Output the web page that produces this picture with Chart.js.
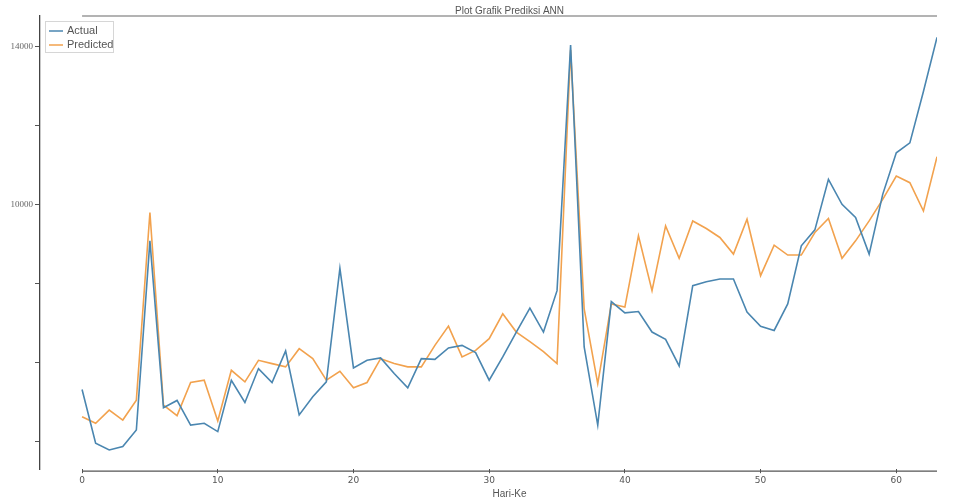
<!DOCTYPE html>
<html>
<head>
<meta charset="utf-8">
<script src="https://cdn.jsdelivr.net/npm/chart.js@4.4.1/dist/chart.umd.min.js"></script>
<style>
html,body{margin:0;padding:0;background:#fff;}
#wrap{width:969px;height:502px;position:relative;}
</style>
</head>
<body>
<div id="wrap"><canvas id="c" width="969" height="502"></canvas></div>
<script>
const chartTitle = "Plot Grafik Prediksi ANN";
const xTitle = "Hari-Ke";
const seriesNames = ["Actual", "Predicted"];
const seriesColors = ['#4a86b0', '#f2a24e'];
const days = Array.from({length: 64}, (_, i) => i);
const actual = [5309,3947,3778,3864,4283,9074,4848,5032,4409,4452,
  4242,5544,4981,5839,5486,6285,4666,5125,5503,8378,
  5856,6048,6109,5713,5352,6091,6073,6361,6426,6242,
  5544,6134,6764,7370,6764,7813,14035,6386,4409,7536,
  7251,7284,6764,6578,5907,7940,8040,8108,8108,7269,
  6911,6805,7478,8948,9352,10631,10000,9665,8739,10252,
  11304,11556,12857,14229];
const predicted = [4620,4452,4787,4535,5039,9791,4913,4646,5486,5544,
  4510,5796,5503,6048,5965,5882,6343,6091,5544,5771,
  5352,5486,6091,5965,5882,5882,6426,6916,6134,6300,
  6595,7226,6764,6520,6267,5965,13909,7352,5460,7478,
  7395,9201,7813,9453,8631,9579,9387,9160,8739,9622,
  8192,8966,8714,8714,9286,9639,8631,9074,9579,10126,
  10714,10547,9831,11203];
const yTicks = [4000,6000,8000,10000,12000,14000];
const yLabeled = [10000,14000];
const xTicks = [0,10,20,30,40,50,60];

const decor = {
  id: 'decor',
  beforeDatasetsDraw(chart) {
    const {ctx, chartArea, scales} = chart;
    const x0 = scales.x.getPixelForValue(days[0]);
    const x1 = scales.x.getPixelForValue(days[days.length-1]);
    ctx.save();
    // top line
    ctx.strokeStyle = '#9a9a9a';
    ctx.lineWidth = 1.5;
    ctx.beginPath();
    ctx.moveTo(x0, chartArea.top);
    ctx.lineTo(x1, chartArea.top);
    ctx.stroke();
    // x axis spine
    ctx.strokeStyle = '#555';
    ctx.lineWidth = 1.3;
    ctx.beginPath();
    ctx.moveTo(x0, chartArea.bottom + 2);
    ctx.lineTo(x1, chartArea.bottom + 2);
    ctx.stroke();
    // title
    ctx.fillStyle = '#555';
    ctx.font = '10px "Liberation Sans", Arial, sans-serif';
    ctx.textAlign = 'center';
    ctx.textBaseline = 'middle';
    ctx.fillText(chartTitle, (x0 + x1) / 2, 11);
    // x axis title
    ctx.fillText(xTitle, (x0 + x1) / 2, 494);
    // legend
    const lx = chartArea.left + 5, ly = chartArea.top + 5;
    ctx.fillStyle = 'rgba(255,255,255,0.9)';
    ctx.strokeStyle = '#d6d6d6';
    ctx.lineWidth = 1;
    ctx.fillRect(lx, ly, 68, 31);
    ctx.strokeRect(lx + 0.5, ly + 0.5, 68, 31);
    ctx.font = '11px "Liberation Sans", Arial, sans-serif';
    ctx.textAlign = 'left';
    seriesNames.forEach((name, i) => {
      const ry = ly + 10 + i * 14;
      ctx.strokeStyle = seriesColors[i];
      ctx.lineWidth = 1.5;
      ctx.beginPath();
      ctx.moveTo(lx + 4, ry);
      ctx.lineTo(lx + 18, ry);
      ctx.stroke();
      ctx.fillStyle = '#555';
      ctx.fillText(name, lx + 22, ry);
    });
    ctx.restore();
  }
};

new Chart(document.getElementById('c'), {
  type: 'line',
  data: {
    labels: days,
    datasets: [
      {label: seriesNames[0], data: days.map((d,i)=>({x:d,y:actual[i]})), borderColor: seriesColors[0], borderWidth: 1.6, pointRadius: 0, tension: 0, fill: false},
      {label: seriesNames[1], data: days.map((d,i)=>({x:d,y:predicted[i]})), borderColor: seriesColors[1], borderWidth: 1.6, pointRadius: 0, tension: 0, fill: false}
    ]
  },
  options: {
    responsive: false,
    animation: false,
    layout: {padding: {top: 16, right: 32, bottom: 14, left: 0}},
    plugins: {
      title: {display: false},
      tooltip: {enabled: false},
      legend: {display: false}
    },
    scales: {
      x: {
        type: 'linear',
        min: -3.1,
        max: 63,
        afterBuildTicks: s => { s.ticks = xTicks.map(v => ({value: v})); },
        border: {display: false},
        grid: {drawOnChartArea: false, drawTicks: true, tickLength: 4, color: '#555'},
        ticks: {color: '#555', padding: 2, maxRotation: 0, autoSkip: false,
          font: {size: 9, family: '"DejaVu Sans", sans-serif'}}
      },
      y: {
        min: 3290,
        max: 14770,
        afterBuildTicks: s => { s.ticks = yTicks.map(v => ({value: v})); },
        afterFit: s => { s.width = 40; },
        border: {display: true, color: '#444', width: 1.3},
        grid: {drawOnChartArea: false, drawTicks: true, tickLength: 5, color: '#555'},
        ticks: {color: '#666', padding: 2,
          font: {size: 9, family: '"Liberation Serif", serif'},
          callback: v => yLabeled.includes(v) ? String(v) : ''}
      }
    }
  },
  plugins: [decor]
});
</script>
</body>
</html>
